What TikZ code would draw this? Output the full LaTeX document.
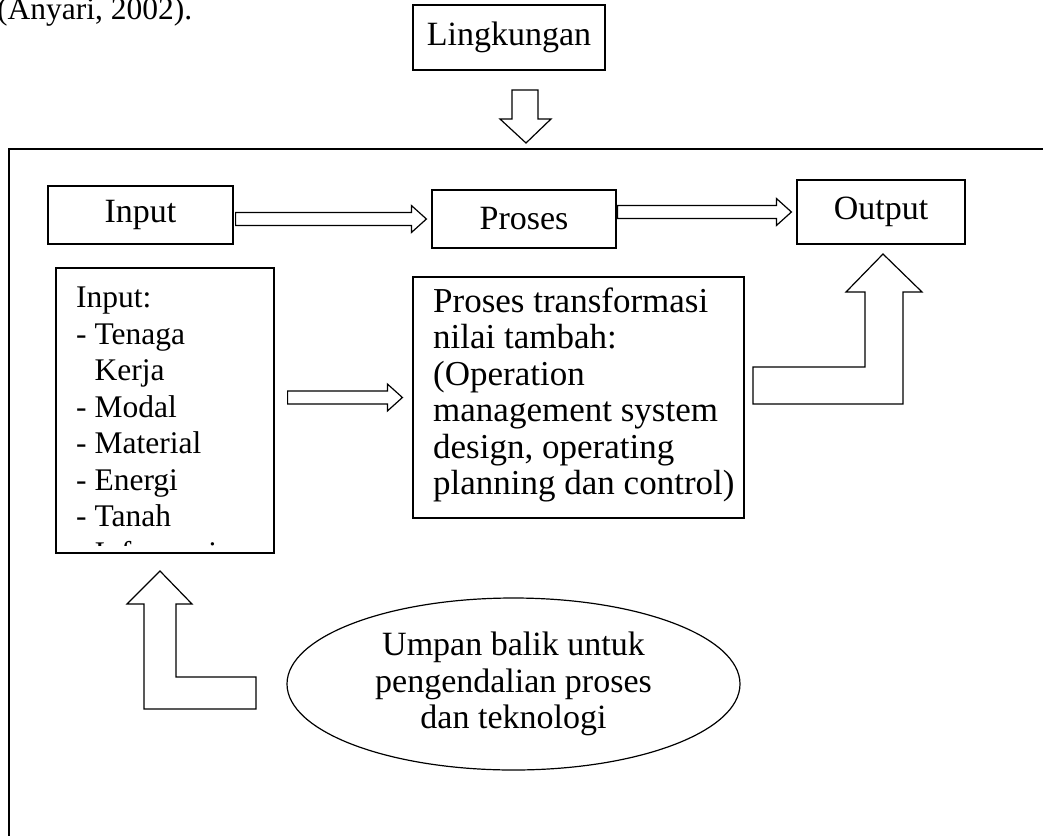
\documentclass[tikz,border=0pt]{standalone}
\usepackage{fontspec}
\setmainfont{Liberation Serif}
\usetikzlibrary{shapes.geometric, calc}

% hollow block arrow from one node to the next, at the height of the target
\newcommand{\hollowarrow}[4]{%
  \draw[blockarrow] let \p1=(#1.east), \p2=(#2.west) in
    (\x1+#3,\y2+6.5pt) -- (\x2-#4-15pt,\y2+6.5pt) -- (\x2-#4-15pt,\y2+13.5pt)
    -- (\x2-#4,\y2) -- (\x2-#4-15pt,\y2-13.5pt) -- (\x2-#4-15pt,\y2-6.5pt)
    -- (\x1+#3,\y2-6.5pt) -- cycle;}

\begin{document}
\begin{tikzpicture}[x=1pt, y=-1pt,
    font=\fontsize{34}{36.5}\selectfont,
    box/.style={rectangle, draw, line width=1.2pt, inner sep=0pt},
    textblock/.style={anchor=north west, inner sep=0pt, align=left},
    blockarrow/.style={draw, line width=1.2pt, line join=miter}
]
\useasboundingbox (0,0) rectangle (1043,835);

% citation line cut by the page edge
\node[anchor=base west, inner sep=0pt, font=\fontsize{31.5}{36.5}\selectfont] (cite) at (-3,19) {(Anyari, 2002).};

\node[box, minimum width=192pt, minimum height=65pt] (lingkungan) at (509,37.5) {Lingkungan};

% system frame, open to the right and bottom
\draw[line width=1.4pt] (1060,149) -- (9,149) -- (9,860);

\node[box, minimum width=185pt, minimum height=58pt] (input) at (140.5,215) {Input};
\node[box, minimum width=184pt, minimum height=58pt] (proses) at (524,219) {Proses};
\node[box, minimum width=168pt, minimum height=64pt] (output) at (881,212) {Output};

\node[box, minimum width=218pt, minimum height=285pt] (inputdetail) at (165,410.5) {};
\node[box, minimum width=331pt, minimum height=241pt] (prosesdetail) at (578.5,397.5) {};
\node[ellipse, draw, line width=1.2pt, minimum width=453pt, minimum height=172pt, align=center] (umpan) at (513.5,684)
  {Umpan balik untuk\\pengendalian proses\\dan teknologi};

\begin{scope}
  \clip (58,270) rectangle (272,545);
  \node[textblock, font=\fontsize{31.5}{36.5}\selectfont] (inputlist) at (76,287)
    {Input:\\- Tenaga\\\hphantom{- }Kerja\\- Modal\\- Material\\- Energi\\- Tanah\\- Informasi};
\end{scope}
\node[textblock, font=\fontsize{35}{36.5}\selectfont] (prosestext) at (433,287.5)
  {Proses transformasi\\nilai tambah:\\(Operation\\management system\\design, operating\\planning dan control)};

% block arrows
\draw[blockarrow] (512,90) -- (538,90) -- (538,119) -- (551,119) -- (526,143)
  -- (500,119) -- (512,119) -- cycle;
\hollowarrow{input}{proses}{2pt}{5pt}
\hollowarrow{proses}{output}{1pt}{5pt}
\hollowarrow{inputdetail}{prosesdetail}{13pt}{10pt}
\draw[blockarrow] (753,367) -- (865,367) -- (865,292) -- (846,292) -- (883,254)
  -- (922,292) -- (903,292) -- (903,404) -- (753,404) -- cycle;
\draw[blockarrow] (256,677) -- (176,677) -- (176,604) -- (192,604) -- (160,571)
  -- (127,604) -- (144,604) -- (144,709) -- (256,709) -- cycle;

\end{tikzpicture}
\end{document}
